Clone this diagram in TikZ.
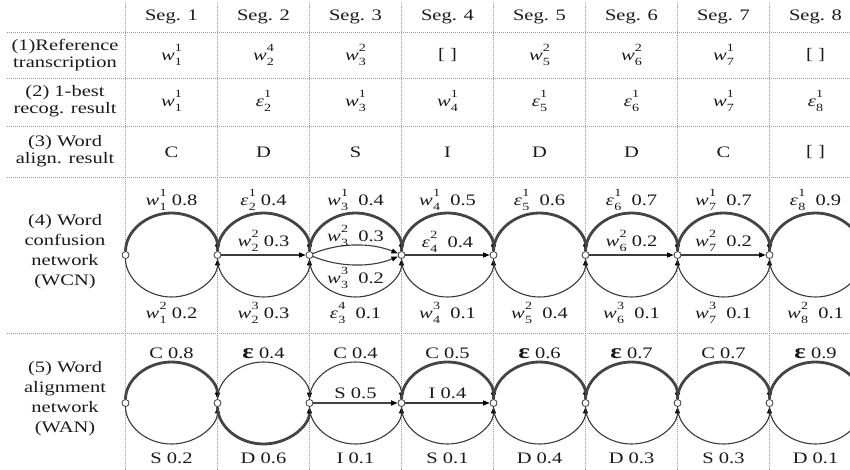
\documentclass[tikz,border=0pt]{standalone}
\usepackage{fontspec}
\setmainfont{Liberation Serif}[FakeStretch=1.28]
\usetikzlibrary{arrows.meta}
\definecolor{gridgray}{HTML}{9A9A9A}
\definecolor{arcgray}{HTML}{3A3A3A}
\definecolor{inkblack}{HTML}{1A1A1A}
% stacked index (below) and rank (above)
\newcommand\subsup[2]{\kern0.3pt\rlap{\raisebox{0.52em}{\fontsize{11}{11}\selectfont#2}}\raisebox{-0.32em}{\fontsize{11}{11}\selectfont#1}}
% word / epsilon symbols with segment index and rank
\newcommand\wv[2]{\textit{w}\subsup{#1}{#2}}
\newcommand\ev[2]{\textit{ε}\subsup{#1}{#2}}
\newcommand\epsb{{\fontsize{21}{21}\selectfont\textbf{ε}}}
% half-ellipse arcs between neighbouring junctions (a = 46, b = rise)
\newcommand\toparc[4]{\draw[#1] (#2) .. controls +(0,-0.5523*#4) and +(-25.4,0) .. +(46,-#4)
  .. controls +(25.4,0) and +(0,-0.5523*#4) .. (#3);}
\newcommand\botarc[4]{\draw[#1] (#2) .. controls +(0,0.5523*#4) and +(-25.4,0) .. +(46,#4)
  .. controls +(25.4,0) and +(0,0.5523*#4) .. (#3);}
\begin{document}
\begin{tikzpicture}[x=1pt,y=-1pt,
  grid/.style={gridgray, line width=0.6pt, dash pattern=on 0.8pt off 1.2pt},
  txt/.style={inner sep=0pt, text=inkblack, font=\fontsize{16}{17}\selectfont},
  lbl/.style={txt, align=center},
  lblfour/.style={inner sep=0pt, text=inkblack, align=center, font=\fontsize{16}{20}\selectfont},
  junc/.style={circle, draw=arcgray, fill=white, line width=0.8pt, minimum size=7pt, inner sep=0pt},
  arc/.style={draw=arcgray, line width=1.1pt, -{Triangle[length=6.5pt,width=5pt,color=black]}},
  heavy/.style={arc, line width=2.8pt, draw=arcgray!95!white},
]
\useasboundingbox (0,0) rectangle (850,470);

% table grid
\foreach \yy in {32,78,126,177,333}
  \draw[grid] (7,\yy) -- (850,\yy);
\foreach \i in {1,...,8} {
  \pgfmathsetmacro\xx{125.5+92*(\i-1)}
  \draw[grid] (\xx,3) -- (\xx,470);
}

% row headings
\node[lbl] (h1) at (65,55) {(1)Reference\\transcription};
\node[lbl] (h2) at (65,101) {(2) 1-best\\recog. result};
\node[lbl] (h3) at (65,151) {(3) Word\\align. result};
\node[lblfour] (h4) at (65,252) {(4) Word\\confusion\\network\\(WCN)};
\node[lblfour] (h5) at (65,399) {(5) Word\\alignment\\network\\(WAN)};

% column headings
\foreach \i in {1,...,8}
  \node[txt] (seg\i) at ({79.5+92*\i},17) {Seg. \i};

% rows 1-3
\foreach \i/\t in {1/{\wv11},2/{\wv24},3/{\wv32},4/{[ ]},5/{\wv52},6/{\wv62},7/{\wv71},8/{[ ]}}
  \node[txt] (r1c\i) at ({79.5+92*\i},55) {\t};
\foreach \i/\t in {1/{\wv11},2/{\ev21},3/{\wv31},4/{\wv41},5/{\ev51},6/{\ev61},7/{\wv71},8/{\ev81}}
  \node[txt] (r2c\i) at ({79.5+92*\i},101) {\t};
\foreach \i/\t in {1/C,2/D,3/S,4/I,5/D,6/D,7/C,8/{[ ]}}
  \node[txt] (r3c\i) at ({79.5+92*\i},152) {\t};

% junctions of both networks
\foreach \i in {1,...,8} {
  \pgfmathsetmacro\xx{125.5+92*(\i-1)}
  \node[junc] (c\i) at (\xx,255) {};
  \node[junc] (a\i) at (\xx,403) {};
}
\coordinate (c9) at (861.5,255);
\coordinate (a9) at (861.5,403);

% ---- word confusion network ----
\foreach \i [evaluate=\i as \j using int(\i+1)] in {1,...,8} {
  \toparc{heavy}{c\i}{c\j}{42}
  \botarc{arc}{c\i}{c\j}{42}
}
\draw[arc] (c2) -- (c3);
\draw[arc] (c4) -- (c5);
\draw[arc] (c6) -- (c7);
\draw[arc] (c7) -- (c8);
\draw[arc] (c3) .. controls +(30,-12.5) and +(-30,-12.5) .. (c4);
\draw[arc] (c3) .. controls +(30,12.5) and +(-30,12.5) .. (c4);

\foreach \i/\t in {1/{\wv11~0.8},2/{\ev21~0.4},3/{\wv31~~0.4},4/{\wv41~~0.5},5/{\ev51~~0.6},6/{\ev61~~0.7},7/{\wv71~~0.7},8/{\ev81~~0.9}}
  \node[txt] (ct\i) at ({79.5+92*\i},200) {\t};
\foreach \i/\t in {1/{\wv12~0.2},2/{\wv23~0.3},3/{\ev34~~0.1},4/{\wv43~~0.1},5/{\wv52~~0.4},6/{\wv63~~0.1},7/{\wv73~~0.1},8/{\wv82~~0.1}}
  \node[txt] (cb\i) at ({79.5+92*\i},313) {\t};
\node[txt] (cm2) at (263.5,241) {\wv22~0.3};
\node[txt] (cm3) at (355.5,236) {\wv32~~0.3};
\node[txt] (cl3) at (355.5,278) {\wv33~~0.2};
\node[txt] (cm4) at (447.5,242) {\ev42~~0.4};
\node[txt] (cm6) at (631.5,241) {\wv62~0.2};
\node[txt] (cm7) at (723.5,241) {\wv72~~0.2};

% ---- word alignment network ----
% upper arcs
\toparc{heavy}{a1}{a2}{41}
\toparc{arc}{a2}{a3}{41}
\toparc{arc}{a3}{a4}{41}
\toparc{heavy}{a4}{a5}{41}
\toparc{heavy}{a5}{a6}{41}
\toparc{heavy}{a6}{a7}{41}
\toparc{heavy}{a7}{a8}{41}
\toparc{heavy}{a8}{a9}{41}
% lower arcs
\botarc{arc}{a1}{a2}{41}
\botarc{heavy}{a2}{a3}{41}
\botarc{arc}{a3}{a4}{41}
\botarc{arc}{a4}{a5}{41}
\botarc{arc}{a5}{a6}{41}
\botarc{arc}{a6}{a7}{41}
\botarc{arc}{a7}{a8}{41}
\botarc{arc}{a8}{a9}{41}
% straight arcs
\draw[heavy] (a3) -- (a4);
\draw[arc] (a4) -- (a5);

\foreach \i/\t in {1/{C 0.8},2/{\epsb~0.4},3/{C 0.4},4/{C 0.5},5/{\epsb~0.6},6/{\epsb~0.7},7/{C 0.7},8/{\epsb~0.9}}
  \node[txt] (at\i) at ({79.5+92*\i},353) {\t};
\foreach \i/\t in {1/{S 0.2},2/{D 0.6},3/{I 0.1},4/{S 0.1},5/{D 0.4},6/{D 0.3},7/{S 0.3},8/{D 0.1}}
  \node[txt] (ab\i) at ({79.5+92*\i},458) {\t};
\node[txt] (am3) at (355.5,393) {S 0.5};
\node[txt] (am4) at (447.5,393) {I 0.4};
\end{tikzpicture}
\end{document}
